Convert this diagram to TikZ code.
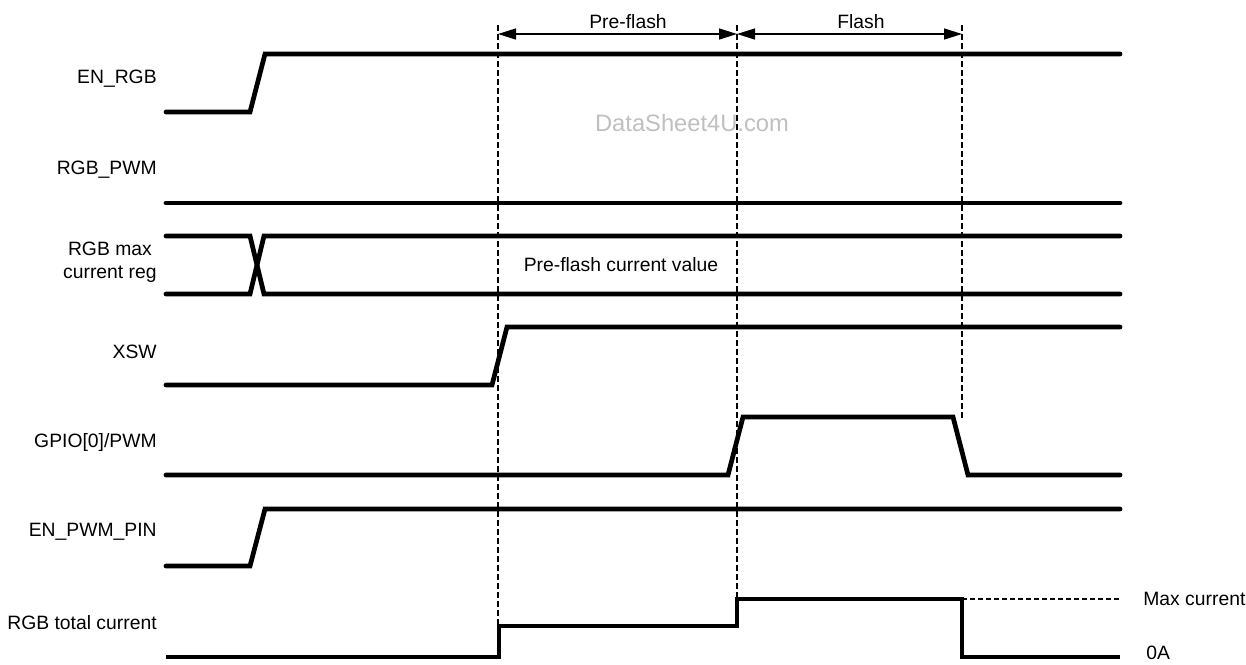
\documentclass[tikz,border=0pt]{standalone}
\usepackage{fontspec}
\setmainfont{Liberation Sans}
\usetikzlibrary{arrows.meta}

\begin{document}
\begin{tikzpicture}[x=0.02cm, y=-0.02cm, font=\fontsize{11}{13}\selectfont,
    wave/.style={line width=2.7pt, line cap=round, line join=miter},
    guide/.style={line width=0.8pt, dash pattern=on 0.12cm off 0.06cm},
    level/.style={line width=0.7pt, dash pattern=on 0.1cm off 0.06cm},
    span/.style={line width=0.8pt,
                 {Triangle[length=0.36cm,width=0.22cm]}-{Triangle[length=0.36cm,width=0.22cm]}},
    sig/.style={anchor=east, align=center, inner sep=0pt},
    lvl/.style={anchor=west, inner sep=0pt},
    note/.style={inner sep=0pt}]

    \useasboundingbox (0,0) rectangle (1246,664);

    % signal names
    \node[sig] (enrgb) at (157,79)  {EN\_RGB};
    \node[sig] (rgbpwm) at (157,170) {RGB\_PWM};
    \node[sig] (maxreg) at (157,262) {RGB max\\current reg};
    \node[sig] (xsw) at (157,352) {XSW};
    \node[sig] (gpio) at (157,442) {GPIO[0]/PWM};
    \node[sig] (enpwm) at (157,532) {EN\_PWM\_PIN};
    \node[sig] (itot) at (157,623) {RGB total current};

    % phase markers
    \coordinate (t1) at (498,34);
    \coordinate (t2) at (737,34);
    \coordinate (t3) at (962,34);
    \draw[guide] (498,25) -- (498,626);
    \draw[guide] (737,25) -- (737,599);
    \draw[guide] (962,25) -- (962,418);
    \draw[span] (t1) -- (t2);
    \draw[span] (t2) -- (t3);
    \node[note] (pf) at (628,22) {Pre-flash};
    \node[note] (fl) at (861,22) {Flash};

    \node[note, text=black!25, font=\fontsize{13.5}{16}\selectfont] (wm) at (692,123)
      {DataSheet4U.com};

    % waveforms
    \draw[wave] (166,112) -- (250,112) -- (265,54) -- (1120,54);
    \draw[wave] (166,203) -- (1120,203);
    \draw[wave] (166,236) -- (250,236) -- (264,294) -- (1120,294);
    \draw[wave] (166,294) -- (250,294) -- (264,236) -- (1120,236);
    \node[note] (pfval) at (621,265) {Pre-flash current value};
    \draw[wave] (166,385) -- (492,385) -- (507,327) -- (1120,327);
    \draw[wave] (166,475) -- (728,475) -- (743,417) -- (953,417)
                -- (968,475) -- (1120,475);
    \draw[wave] (166,566) -- (250,566) -- (265,509) -- (1120,509);
    \draw[wave, line cap=butt] (166,657) -- (499,657) -- (499,626) -- (737,626)
                -- (737,599) -- (962,599) -- (962,657) -- (1120,657);
    \draw[level] (962,599) -- (1120,599);

    \node[lvl] (imax) at (1143,599) {Max current};
    \node[lvl] (izero) at (1146,653) {0A};
\end{tikzpicture}
\end{document}
